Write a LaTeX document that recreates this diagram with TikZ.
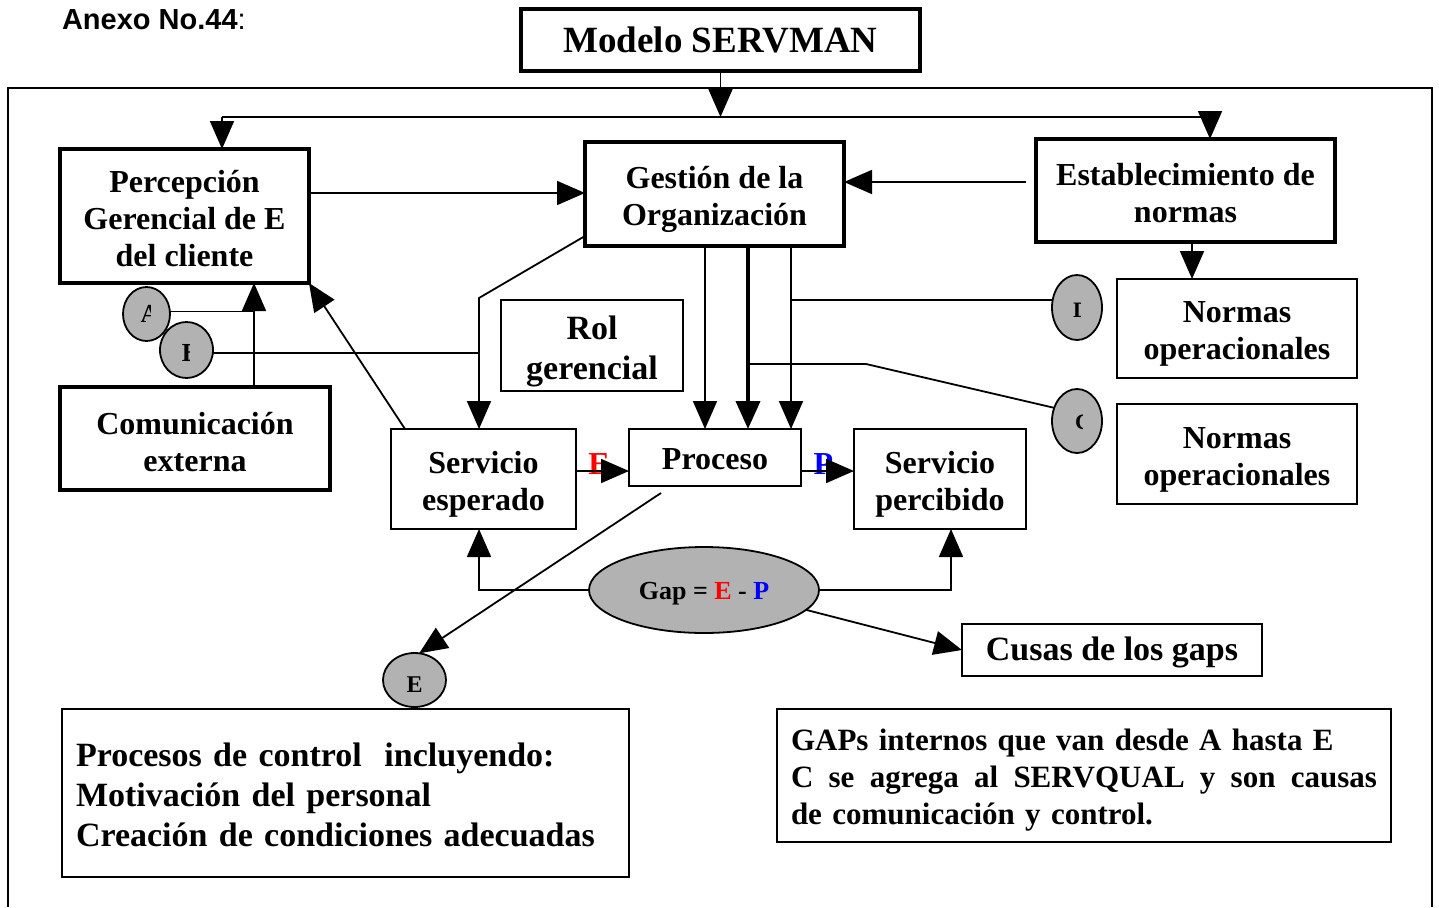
\documentclass[tikz,border=0pt]{standalone}
\usepackage{fontspec}
\setmainfont{Liberation Serif}
\newfontfamily\anexofont{Liberation Sans}
\usetikzlibrary{arrows.meta,shapes.geometric}

% a zero-width strut that sets the height of a box's first text line
\newcommand{\toprow}[1]{\rule{0pt}{#1}}

\tikzset{
  every node/.style={inner sep=0pt,outer sep=0pt},
  heavybox/.style={draw,line width=4pt,align=center,font=\fontsize{32}{37}\selectfont\bfseries},
  lightbox/.style={draw,line width=1.8pt,align=center,font=\fontsize{32}{37}\selectfont\bfseries},
  link/.style={line width=1.8pt},
  arr/.style={line width=1.8pt,-{Triangle[length=28pt,width=24pt]}},
  heavyarr/.style={line width=4pt,-{Triangle[length=28pt,width=24pt]}},
  marker/.style={ellipse,draw,line width=1.8pt,fill=black!30},
  letter/.style={font=\fontsize{#1}{#1}\selectfont\bfseries}
}

\begin{document}
\begin{tikzpicture}[x=1pt,y=-1pt]
\useasboundingbox (0,0) rectangle (1439,907);

% outer frame
\draw[line width=1.8pt] (8,907) -- (8,88) -- (1432,88) -- (1432,907);

% heading
\node[anchor=west,font=\anexofont\fontsize{29}{32}\selectfont] (anexo) at (62,20) {\bfseries Anexo No.44\mdseries:};
\node[heavybox,minimum width=399pt,minimum height=62pt,font=\fontsize{37}{40}\selectfont\bfseries] (title) at (720.5,40) {Modelo SERVMAN};

% main boxes
\node[heavybox,minimum width=249pt,minimum height=134pt] (percep) at (184.5,216) {\toprow{28pt}Percepción\\Gerencial de E\\del cliente};
\node[heavybox,minimum width=259pt,minimum height=104pt] (gestion) at (714.5,194) {\toprow{33pt}Gestión de la\\Organización};
\node[heavybox,minimum width=299pt,minimum height=103pt] (estab) at (1185.5,190.5) {\toprow{28pt}Establecimiento de\\normas};
\node[lightbox,minimum width=240pt,minimum height=99pt] (normA) at (1237,328.5) {\toprow{32pt}Normas\\operacionales};
\node[lightbox,minimum width=240pt,minimum height=100pt] (normB) at (1237,454) {\toprow{32pt}Normas\\operacionales};
\node[lightbox,minimum width=182pt,minimum height=91pt,font=\fontsize{34}{40}\selectfont\bfseries] (rol) at (592,345.5) {\toprow{35pt}Rol\\gerencial};
\node[heavybox,minimum width=270pt,minimum height=103pt] (comun) at (195,438.5) {\toprow{29pt}Comunicación\\externa};
\node[lightbox,minimum width=185pt,minimum height=100pt] (esper) at (483.5,479) {\toprow{32pt}Servicio\\esperado};
\node[lightbox,minimum width=172pt,minimum height=57pt] (proc) at (715,457.5) {\toprow{25pt}Proceso};
\node[lightbox,minimum width=172pt,minimum height=100pt] (percib) at (940,479) {\toprow{32pt}Servicio\\percibido};
\node[marker,minimum width=230pt,minimum height=86pt,font=\fontsize{26}{30}\selectfont\bfseries] (gap) at (704,590) {\toprow{24pt}Gap = \textcolor{red}{E} - \textcolor{blue}{P}};
\node[lightbox,minimum width=300pt,minimum height=52pt,font=\fontsize{34}{38}\selectfont\bfseries] (causas) at (1112,650) {\toprow{29pt}Cusas de los gaps};
\node[lightbox,minimum width=567pt,minimum height=168pt,text width=539pt,align=left,font=\fontsize{34}{40}\selectfont\bfseries] (control) at (345.5,793) {\toprow{28pt}Procesos de control\ \ incluyendo:\\Motivación del personal\\Creación de condiciones adecuadas};
\node[lightbox,minimum width=614pt,minimum height=133pt,text width=586pt,align=left,font=\fontsize{31}{37}\selectfont\bfseries] (gaps) at (1084,775.5) {\toprow{31pt}GAPs internos que van desde A hasta E\\\makebox[586pt][s]{C\hfill se\hfill agrega\hfill al\hfill SERVQUAL\hfill y\hfill son\hfill causas}\\de comunicación y control.};

% gap markers
\node[marker,minimum width=47pt,minimum height=54pt] (mA) at (146.5,314) {};
\node[marker,minimum width=53pt,minimum height=56pt] (mB) at (186.5,350) {};
\node[marker,minimum width=50pt,minimum height=65pt] (mD) at (1077,307.5) {};
\node[marker,minimum width=50pt,minimum height=64pt] (mC) at (1077,421) {};
\node[marker,minimum width=63pt,minimum height=54pt] (mE) at (414.5,680) {};
\begin{scope}
  \clip (120,285) rectangle (150.5,345);
  \node[letter=26] (tA) at (150,314) {A};
\end{scope}
\begin{scope}
  \clip (158,320) rectangle (189,380);
  \node[letter=26] (tB) at (190.5,353.5) {B};
\end{scope}
\begin{scope}
  \clip (1050,275) rectangle (1080.5,340);
  \node[letter=22] (tD) at (1081,310) {D};
\end{scope}
\begin{scope}
  \clip (1050,390) rectangle (1082,455);
  \node[letter=22] (tC) at (1083,422) {C};
\end{scope}
\node[letter=24] (tE) at (414.5,685) {E};

% helper positions for connectors
\coordinate (top) at (720,117);
\coordinate (topL) at (222,117);
\coordinate (topR) at (1210,117);
\coordinate (rowPG) at (0,193);
\coordinate (estOut) at (1026,182);
\coordinate (colN) at (1192,0);
\coordinate (c1) at (705,0);
\coordinate (c2) at (748,0);
\coordinate (c3) at (791,0);
\coordinate (bendC) at (866,364);
\coordinate (bendG) at (479,298);
\coordinate (colC) at (254,0);
\coordinate (rowEP) at (0,471);
\coordinate (colP) at (951,0);

% top distribution
\draw[arr] (title.south) -- (title.south |- top);
\draw[link] (topL) -- (topR);
\draw[arr] (topL) -- (topL |- percep.north);
\draw[arr] (topR) -- (topR |- estab.north);

% links around management
\draw[arr] (percep.east |- rowPG) -- (gestion.west |- rowPG);
\draw[arr] (estOut) -- (gestion.east |- estOut);
\draw[arr] (estab.south -| colN) -- (normA.north -| colN);
\draw[arr] (gestion.south -| c1) -- (proc.north -| c1);
\draw[heavyarr] (gestion.south -| c2) -- (proc.north -| c2);
\draw[arr] (gestion.south -| c3) -- (proc.north -| c3);
\draw[link] (mD.163) -- (mD.163 -| c3);
\draw[link] (mC.150) -- (bendC) -- (bendC -| c2);

\path (gestion.south west) ++(0,-10) coordinate (gsw);
\draw[arr] (gsw) -- (bendG) -- (bendG |- esper.north);
\draw[link] (mB.-6) -- (mB.-6 -| bendG);
\draw[link] (mA.6) -- (mA.6 -| colC);
\draw[arr] (comun.north -| colC) -- (percep.south -| colC);
\path (esper.north west) ++(14,0) coordinate (esw);
\draw[arr] (esw) -- (percep.south east);

% service chain
\node[text=red,letter=32] (lblE) at (599,464) {E};
\node[text=blue,letter=32] (lblP) at (823.5,464) {P};
\draw[arr] (esper.east |- rowEP) -- (proc.west |- rowEP);
\draw[arr] (proc.east |- rowEP) -- (percib.west |- rowEP);
\path (proc.south west) ++(32,7) coordinate (pse);
\draw[arr] (pse) -- (mE.80);

% gap links
\draw[arr] (gap.west) -- (gap.west -| bendG) -- (bendG |- esper.south);
\draw[arr] (gap.east) -- (gap.east -| colP) -- (colP |- percib.south);
\draw[arr] (gap.-11) -- (causas.west);
\end{tikzpicture}
\end{document}
